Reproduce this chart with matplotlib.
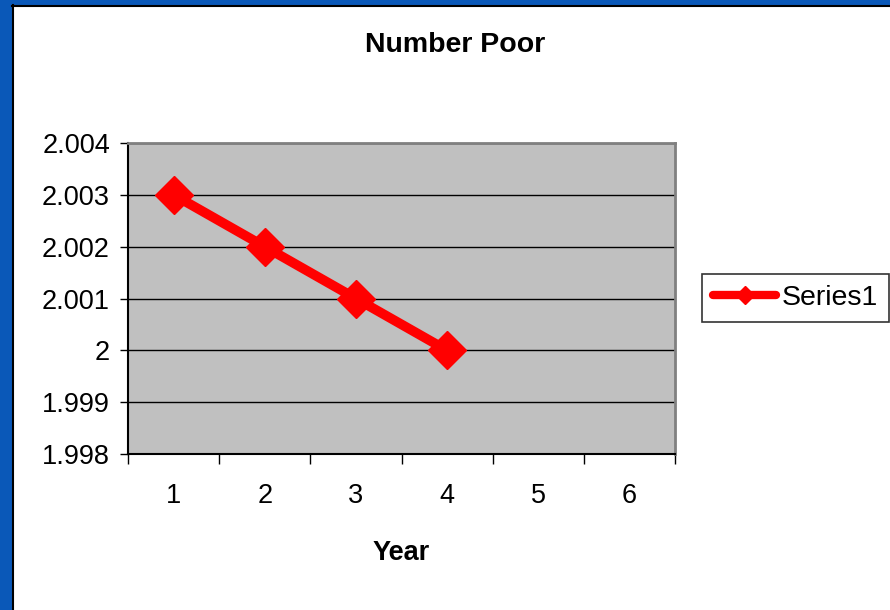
import matplotlib.pyplot as plt
from matplotlib.lines import Line2D
from matplotlib.patches import Rectangle

plt.rcParams['font.family'] = ['Liberation Sans', 'DejaVu Sans']

# data
years = [1, 2, 3, 4]
number_poor = [2.003, 2.002, 2.001, 2.000]
year_labels = ['1', '2', '3', '4', '5', '6']
y_ticks = [1.998, 1.999, 2.000, 2.001, 2.002, 2.003, 2.004]
y_tick_labels = ['1.998', '1.999', '2', '2.001', '2.002', '2.003', '2.004']

W, H = 890, 610
fig = plt.figure(figsize=(W / 100, H / 100), dpi=100)
fig.patch.set_facecolor('#0a58b8')

# white chart background with dark edge on the left and top
bg = Rectangle((12 / W, 0), 1 - 12 / W, 1 - 5 / H, transform=fig.transFigure,
               facecolor='white', edgecolor='none', zorder=-5)
fig.add_artist(bg)
fig.add_artist(Line2D([12.5 / W, 12.5 / W], [0, 1 - 5 / H], color='black', lw=1.5,
                      transform=fig.transFigure, zorder=-4))
fig.add_artist(Line2D([12 / W, 1], [1 - 5.5 / H, 1 - 5.5 / H], color='black', lw=1.5,
                      transform=fig.transFigure, zorder=-4))

ax = fig.add_axes([128 / W, 1 - 454 / H, (675 - 128) / W, (454 - 143) / H])
ax.set_facecolor('#c0c0c0')

ax.plot(years, number_poor, color='red', lw=7, marker='D', ms=19,
        solid_capstyle='round', zorder=3)

ax.set_xlim(0.5, 6.5)
ax.set_ylim(1.998, 2.004)

ax.set_yticks(y_ticks)
ax.set_yticklabels(y_tick_labels)
ax.yaxis.grid(True, color='black', lw=1)
ax.set_axisbelow(True)

# category ticks between years, labels centred on each year
ax.set_xticks([i + 0.5 for i in range(0, 7)])
ax.set_xticklabels([])
ax.set_xticks(range(1, 7), minor=True)
ax.set_xticklabels(year_labels, minor=True)
ax.tick_params(axis='x', which='major', direction='out', length=7, width=1, color='black')
ax.tick_params(axis='x', which='minor', length=0, pad=21, labelsize=19.5)
ax.tick_params(axis='y', direction='out', length=6, width=1, color='black',
               pad=7, labelsize=19.5)

for side in ['top', 'right']:
    ax.spines[side].set_color('#808080')
    ax.spines[side].set_linewidth(2)
for side in ['left', 'bottom']:
    ax.spines[side].set_color('black')
    ax.spines[side].set_linewidth(1.5)

ax.set_xlabel('Year', fontsize=19.5, fontweight='bold', labelpad=22)
fig.text(455 / W, 1 - 45 / H, 'Number Poor', ha='center', va='center',
         fontsize=20.5, fontweight='bold')

handle = Line2D([], [], color='red', lw=6, marker='D', ms=9, solid_capstyle='round')
leg = fig.legend([handle], ['Series1'], loc='center left',
                 bbox_to_anchor=(702 / W, 1 - 298 / H), fontsize=20.5,
                 frameon=True, fancybox=False, edgecolor='black',
                 handlelength=2.2, handletextpad=0.2, borderpad=0.4,
                 borderaxespad=0)
leg.get_frame().set_linewidth(1.2)

fig.savefig('out.png', dpi=100)
